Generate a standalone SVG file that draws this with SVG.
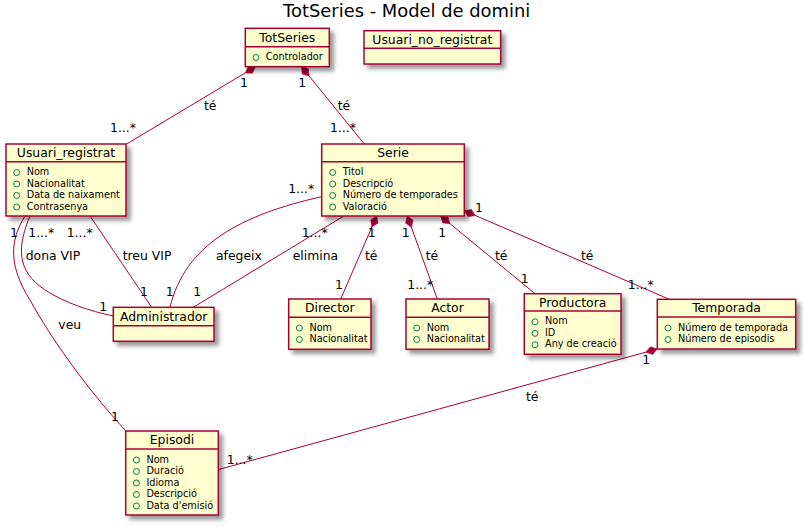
<svg xmlns="http://www.w3.org/2000/svg" width="806" height="527" viewBox="0 0 806 527">
<style>
  text { font-family: "DejaVu Sans", "Noto Sans", sans-serif; fill: #000000; }
  .title { font-size: 17.9px; text-anchor: middle; }
  .cname { font-size: 12.4px; text-anchor: middle; }
  .attr { font-size: 9.7px; }
  .lbl { font-size: 12.4px; }
  .box { fill: #FEFECE; stroke: #A80036; stroke-width: 1.5; }
  .div { stroke: #A80036; stroke-width: 1.5; }
  .pub { fill: none; stroke: #038048; stroke-width: 1; }
  .edge { fill: none; stroke: #A80036; stroke-width: 1; }
  .comp { marker-start: url(#diamond); }
</style>
<defs>
  <filter id="shadow" x="-10%" y="-10%" width="130%" height="140%">
    <feGaussianBlur in="SourceAlpha" result="blurOut" stdDeviation="2"/>
    <feColorMatrix in="blurOut" result="col" type="matrix" values="0 0 0 0 0  0 0 0 0 0  0 0 0 0 0  0 0 0 .4 0"/>
    <feOffset in="col" result="off" dx="4" dy="4"/>
    <feMerge><feMergeNode in="off"/><feMergeNode in="SourceGraphic"/></feMerge>
  </filter>
  <marker id="diamond" markerUnits="userSpaceOnUse" viewBox="0 -5 13 10" refX="0" refY="0" markerWidth="13" markerHeight="10" orient="auto">
    <path d="M0,0 L6,-4 L12,0 L6,4 Z" fill="#A80036" stroke="#A80036" stroke-width="0.5"/>
  </marker>
</defs>
<rect x="0" y="0" width="806" height="527" fill="#FFFFFF"/>
<text class="title" x="406.7" y="16.7">TotSeries - Model de domini</text>

<g id="connectors">
  <path class="edge comp" d="M255.5,66.7 L126.7,144"/>
  <path class="edge comp" d="M301.5,66.7 L364.3,144"/>
  <path class="edge" d="M321.7,196.7 C240,215 185,245 170,307.3"/>
  <path class="edge" d="M343.8,216 L193.3,307.3"/>
  <path class="edge" d="M90,216 L151.7,307.3"/>
  <path class="edge" d="M30,216 C18,245 15,270 45,290 C65,303 90,311 113.3,316"/>
  <path class="edge" d="M25,216 C10,240 8,265 30,300 C52,340 88,390 126,431"/>
  <path class="edge comp" d="M376.7,216 L340.7,299"/>
  <path class="edge comp" d="M407.3,216 L437.3,299"/>
  <path class="edge comp" d="M440.7,216 L535,293.7"/>
  <path class="edge comp" d="M464.3,210.7 L669.3,299.3"/>
  <path class="edge comp" d="M657.3,349 L218.3,469.6"/>

  <text class="lbl" x="240" y="86.7">1</text>
  <text class="lbl" x="204" y="110">té</text>
  <text class="lbl" x="110" y="132">1...*</text>
  <text class="lbl" x="298.3" y="86.7">1</text>
  <text class="lbl" x="337.7" y="110">té</text>
  <text class="lbl" x="330" y="132">1...*</text>

  <text class="lbl" x="288.3" y="193">1...*</text>
  <text class="lbl" x="216" y="259.5">afegeix</text>
  <text class="lbl" x="165.7" y="295.5">1</text>

  <text class="lbl" x="301.7" y="236.7">1...*</text>
  <text class="lbl" x="292.7" y="259.5">elimina</text>
  <text class="lbl" x="193.3" y="295.5">1</text>

  <text class="lbl" x="66.7" y="236.7">1...*</text>
  <text class="lbl" x="122.7" y="259.5">treu VIP</text>
  <text class="lbl" x="140" y="295.5">1</text>

  <text class="lbl" x="28.3" y="236.7">1...*</text>
  <text class="lbl" x="25.7" y="259.5">dona VIP</text>
  <text class="lbl" x="99.3" y="311">1</text>

  <text class="lbl" x="10" y="236.7">1</text>
  <text class="lbl" x="58.3" y="329">veu</text>
  <text class="lbl" x="111" y="421">1</text>

  <text class="lbl" x="367.7" y="236.7">1</text>
  <text class="lbl" x="365" y="259.5">té</text>
  <text class="lbl" x="335" y="289">1</text>

  <text class="lbl" x="401.7" y="236.7">1</text>
  <text class="lbl" x="425.7" y="259.5">té</text>
  <text class="lbl" x="407.3" y="289">1...*</text>

  <text class="lbl" x="438.3" y="236.7">1</text>
  <text class="lbl" x="495" y="259.5">té</text>
  <text class="lbl" x="520.7" y="283">1</text>

  <text class="lbl" x="475" y="211.5">1</text>
  <text class="lbl" x="581" y="259.5">té</text>
  <text class="lbl" x="627.7" y="289">1...*</text>

  <text class="lbl" x="642.3" y="364">1</text>
  <text class="lbl" x="526" y="400.5">té</text>
  <text class="lbl" x="226.8" y="463.5">1...*</text>
</g>

<g id="TotSeries">
  <rect class="box" x="245.3" y="28.3" width="84" height="38.4" filter="url(#shadow)"/>
  <line class="div" x1="245.3" y1="46.7" x2="329.3" y2="46.7"/>
  <text class="cname" x="287.3" y="41.5">TotSeries</text>
  <circle class="pub" cx="256" cy="57.5" r="3"/>
  <text class="attr" x="265.7" y="60">Controlador</text>
</g>

<g id="Usuari_no_registrat">
  <rect class="box" x="364" y="30.7" width="136.7" height="33.3" filter="url(#shadow)"/>
  <line class="div" x1="364" y1="48.3" x2="500.7" y2="48.3"/>
  <text class="cname" x="432.3" y="43.8">Usuari_no_registrat</text>
</g>

<g id="Usuari_registrat">
  <rect class="box" x="6" y="144" width="120" height="72" filter="url(#shadow)"/>
  <line class="div" x1="6" y1="161.7" x2="126" y2="161.7"/>
  <text class="cname" x="66" y="157">Usuari_registrat</text>
  <circle class="pub" cx="16.7" cy="172.5" r="3"/>
  <text class="attr" x="26.7" y="175">Nom</text>
  <circle class="pub" cx="16.7" cy="184" r="3"/>
  <text class="attr" x="26.7" y="186.5">Nacionalitat</text>
  <circle class="pub" cx="16.7" cy="195.5" r="3"/>
  <text class="attr" x="26.7" y="198">Data de naixament</text>
  <circle class="pub" cx="16.7" cy="207" r="3"/>
  <text class="attr" x="26.7" y="209.5">Contrasenya</text>
</g>

<g id="Serie">
  <rect class="box" x="321.7" y="144" width="142.6" height="72" filter="url(#shadow)"/>
  <line class="div" x1="321.7" y1="161.7" x2="464.3" y2="161.7"/>
  <text class="cname" x="393" y="157">Serie</text>
  <circle class="pub" cx="332.7" cy="172.5" r="3"/>
  <text class="attr" x="342.7" y="175">Titol</text>
  <circle class="pub" cx="332.7" cy="184" r="3"/>
  <text class="attr" x="342.7" y="186.5">Descripció</text>
  <circle class="pub" cx="332.7" cy="195.5" r="3"/>
  <text class="attr" x="342.7" y="198">Número de temporades</text>
  <circle class="pub" cx="332.7" cy="207" r="3"/>
  <text class="attr" x="342.7" y="209.5">Valoració</text>
</g>

<g id="Administrador">
  <rect class="box" x="113.3" y="307.3" width="100.7" height="34" filter="url(#shadow)"/>
  <line class="div" x1="113.3" y1="325.7" x2="214" y2="325.7"/>
  <text class="cname" x="163.7" y="320.5">Administrador</text>
</g>

<g id="Director">
  <rect class="box" x="288.7" y="299" width="82.3" height="50.3" filter="url(#shadow)"/>
  <line class="div" x1="288.7" y1="317.3" x2="371" y2="317.3"/>
  <text class="cname" x="329.8" y="312.3">Director</text>
  <circle class="pub" cx="299.4" cy="328" r="3"/>
  <text class="attr" x="309.4" y="330.5">Nom</text>
  <circle class="pub" cx="299.4" cy="339.5" r="3"/>
  <text class="attr" x="309.4" y="342">Nacionalitat</text>
</g>

<g id="Actor">
  <rect class="box" x="406" y="299" width="83" height="50.3" filter="url(#shadow)"/>
  <line class="div" x1="406" y1="317.3" x2="489" y2="317.3"/>
  <text class="cname" x="447.5" y="312.3">Actor</text>
  <circle class="pub" cx="416.7" cy="328" r="3"/>
  <text class="attr" x="426.7" y="330.5">Nom</text>
  <circle class="pub" cx="416.7" cy="339.5" r="3"/>
  <text class="attr" x="426.7" y="342">Nacionalitat</text>
</g>

<g id="Productora">
  <rect class="box" x="524.3" y="293.7" width="96.7" height="60.6" filter="url(#shadow)"/>
  <line class="div" x1="524.3" y1="311" x2="621" y2="311"/>
  <text class="cname" x="572.7" y="306.5">Productora</text>
  <circle class="pub" cx="535" cy="321.8" r="3"/>
  <text class="attr" x="545" y="324.3">Nom</text>
  <circle class="pub" cx="535" cy="333.3" r="3"/>
  <text class="attr" x="545" y="335.8">ID</text>
  <circle class="pub" cx="535" cy="344.8" r="3"/>
  <text class="attr" x="545" y="347.3">Any de creació</text>
</g>

<g id="Temporada">
  <rect class="box" x="657.3" y="299.3" width="138.4" height="49.7" filter="url(#shadow)"/>
  <line class="div" x1="657.3" y1="317" x2="795.7" y2="317"/>
  <text class="cname" x="726.5" y="312.3">Temporada</text>
  <circle class="pub" cx="668" cy="328" r="3"/>
  <text class="attr" x="678" y="330.5">Número de temporada</text>
  <circle class="pub" cx="668" cy="339.5" r="3"/>
  <text class="attr" x="678" y="342">Número de episodis</text>
</g>

<g id="Episodi">
  <rect class="box" x="125.7" y="431" width="92.6" height="84" filter="url(#shadow)"/>
  <line class="div" x1="125.7" y1="449" x2="218.3" y2="449"/>
  <text class="cname" x="172" y="444.3">Episodi</text>
  <circle class="pub" cx="136.4" cy="460" r="3"/>
  <text class="attr" x="146.4" y="462.5">Nom</text>
  <circle class="pub" cx="136.4" cy="471.5" r="3"/>
  <text class="attr" x="146.4" y="474">Duració</text>
  <circle class="pub" cx="136.4" cy="483" r="3"/>
  <text class="attr" x="146.4" y="485.5">Idioma</text>
  <circle class="pub" cx="136.4" cy="494.5" r="3"/>
  <text class="attr" x="146.4" y="497">Descripció</text>
  <circle class="pub" cx="136.4" cy="506" r="3"/>
  <text class="attr" x="146.4" y="508.5">Data d'emisió</text>
</g>
</svg>
